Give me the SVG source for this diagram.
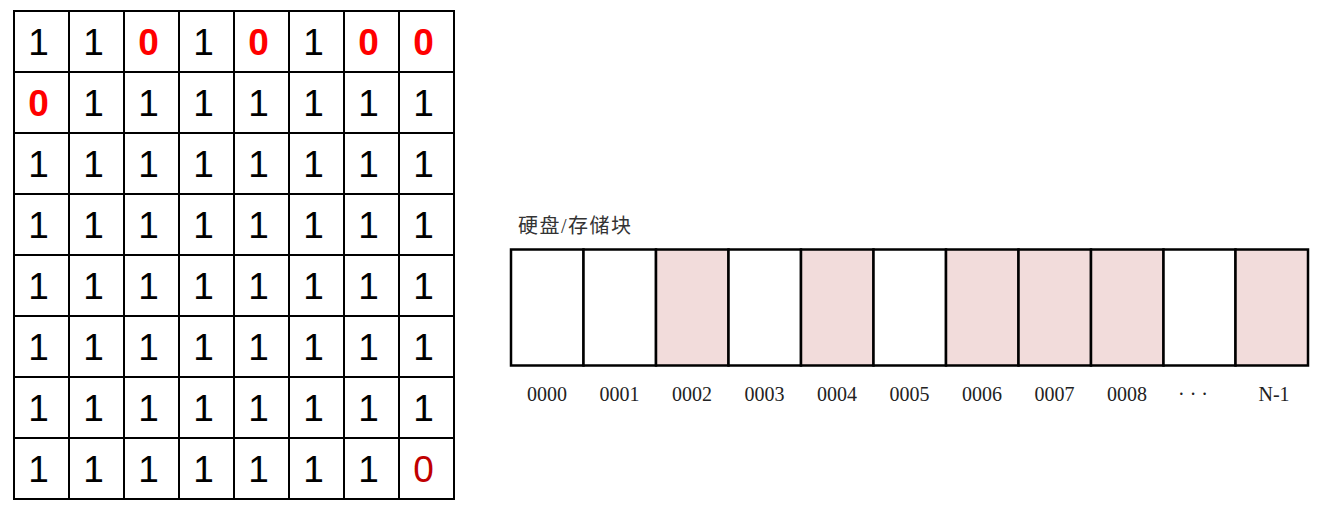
<svg xmlns="http://www.w3.org/2000/svg" width="1326" height="512" viewBox="0 0 1326 512">
<style>
.grid{fill:none;stroke:#000;stroke-width:2}
.d{font-family:"Liberation Sans",Arial,sans-serif;font-size:37px;text-anchor:middle;fill:#000}
.z{font-weight:bold;fill:#FF0000}
.z2{fill:#C00000}
.blk{stroke:#000;stroke-width:2.5;fill:#fff}
.used{fill:#F2DCDB}
.lbl{font-family:"Liberation Serif","Noto Sans CJK SC",serif;font-size:20px;text-anchor:middle;fill:#222}
.title{font-family:"Liberation Serif","Noto Sans CJK SC",serif;font-size:20px;letter-spacing:1.5px;fill:#333}
</style>
<rect width="1326" height="512" fill="#fff"/>
<g id="bitmap">
<g class="grid">
<rect x="14" y="11" width="440" height="488"/>
<path d="M69 11V499M124 11V499M179 11V499M234 11V499M289 11V499M344 11V499M399 11V499"/>
<path d="M14 72H454M14 133H454M14 194H454M14 255H454M14 316H454M14 377H454M14 438H454"/>
</g>
<g transform="translate(-3,0)">
<g id="row1">
<text class="d" x="41.5" y="55">1</text><text class="d" x="96.5" y="55">1</text><text class="d z" x="151.5" y="55">0</text><text class="d" x="206.5" y="55">1</text><text class="d z" x="261.5" y="55">0</text><text class="d" x="316.5" y="55">1</text><text class="d z" x="371.5" y="55">0</text><text class="d z" x="426.5" y="55">0</text>
</g>
<g id="row2">
<text class="d z" x="41.5" y="116">0</text><text class="d" x="96.5" y="116">1</text><text class="d" x="151.5" y="116">1</text><text class="d" x="206.5" y="116">1</text><text class="d" x="261.5" y="116">1</text><text class="d" x="316.5" y="116">1</text><text class="d" x="371.5" y="116">1</text><text class="d" x="426.5" y="116">1</text>
</g>
<g id="row3">
<text class="d" x="41.5" y="177">1</text><text class="d" x="96.5" y="177">1</text><text class="d" x="151.5" y="177">1</text><text class="d" x="206.5" y="177">1</text><text class="d" x="261.5" y="177">1</text><text class="d" x="316.5" y="177">1</text><text class="d" x="371.5" y="177">1</text><text class="d" x="426.5" y="177">1</text>
</g>
<g id="row4">
<text class="d" x="41.5" y="238">1</text><text class="d" x="96.5" y="238">1</text><text class="d" x="151.5" y="238">1</text><text class="d" x="206.5" y="238">1</text><text class="d" x="261.5" y="238">1</text><text class="d" x="316.5" y="238">1</text><text class="d" x="371.5" y="238">1</text><text class="d" x="426.5" y="238">1</text>
</g>
<g id="row5">
<text class="d" x="41.5" y="299">1</text><text class="d" x="96.5" y="299">1</text><text class="d" x="151.5" y="299">1</text><text class="d" x="206.5" y="299">1</text><text class="d" x="261.5" y="299">1</text><text class="d" x="316.5" y="299">1</text><text class="d" x="371.5" y="299">1</text><text class="d" x="426.5" y="299">1</text>
</g>
<g id="row6">
<text class="d" x="41.5" y="360">1</text><text class="d" x="96.5" y="360">1</text><text class="d" x="151.5" y="360">1</text><text class="d" x="206.5" y="360">1</text><text class="d" x="261.5" y="360">1</text><text class="d" x="316.5" y="360">1</text><text class="d" x="371.5" y="360">1</text><text class="d" x="426.5" y="360">1</text>
</g>
<g id="row7">
<text class="d" x="41.5" y="421">1</text><text class="d" x="96.5" y="421">1</text><text class="d" x="151.5" y="421">1</text><text class="d" x="206.5" y="421">1</text><text class="d" x="261.5" y="421">1</text><text class="d" x="316.5" y="421">1</text><text class="d" x="371.5" y="421">1</text><text class="d" x="426.5" y="421">1</text>
</g>
<g id="row8">
<text class="d" x="41.5" y="482">1</text><text class="d" x="96.5" y="482">1</text><text class="d" x="151.5" y="482">1</text><text class="d" x="206.5" y="482">1</text><text class="d" x="261.5" y="482">1</text><text class="d" x="316.5" y="482">1</text><text class="d" x="371.5" y="482">1</text><text class="d z2" x="426.5" y="482">0</text>
</g>
</g>
</g>
<g id="disk">
<text class="title" x="518" y="233">硬盘/存储块</text>
<g id="b0"><rect class="blk" x="511" y="249.5" width="72.5" height="116"/><text class="lbl" x="547" y="401">0000</text></g>
<g id="b1"><rect class="blk" x="583.5" y="249.5" width="72.5" height="116"/><text class="lbl" x="619.5" y="401">0001</text></g>
<g id="b2"><rect class="blk used" x="656" y="249.5" width="72.5" height="116"/><text class="lbl" x="692" y="401">0002</text></g>
<g id="b3"><rect class="blk" x="728.5" y="249.5" width="72.5" height="116"/><text class="lbl" x="764.5" y="401">0003</text></g>
<g id="b4"><rect class="blk used" x="801" y="249.5" width="72.5" height="116"/><text class="lbl" x="837" y="401">0004</text></g>
<g id="b5"><rect class="blk" x="873.5" y="249.5" width="72.5" height="116"/><text class="lbl" x="909.5" y="401">0005</text></g>
<g id="b6"><rect class="blk used" x="946" y="249.5" width="72.5" height="116"/><text class="lbl" x="982" y="401">0006</text></g>
<g id="b7"><rect class="blk used" x="1018.5" y="249.5" width="72.5" height="116"/><text class="lbl" x="1054.5" y="401">0007</text></g>
<g id="b8"><rect class="blk used" x="1091" y="249.5" width="72.5" height="116"/><text class="lbl" x="1127" y="401">0008</text></g>
<g id="b9"><rect class="blk" x="1163.5" y="249.5" width="72" height="116"/><text class="lbl" x="1193" y="401">· · ·</text></g>
<g id="b10"><rect class="blk used" x="1235.5" y="249.5" width="72.5" height="116"/><text class="lbl" x="1274" y="401">N-1</text></g>
</g>
<g id="connectors"/>
</svg>
